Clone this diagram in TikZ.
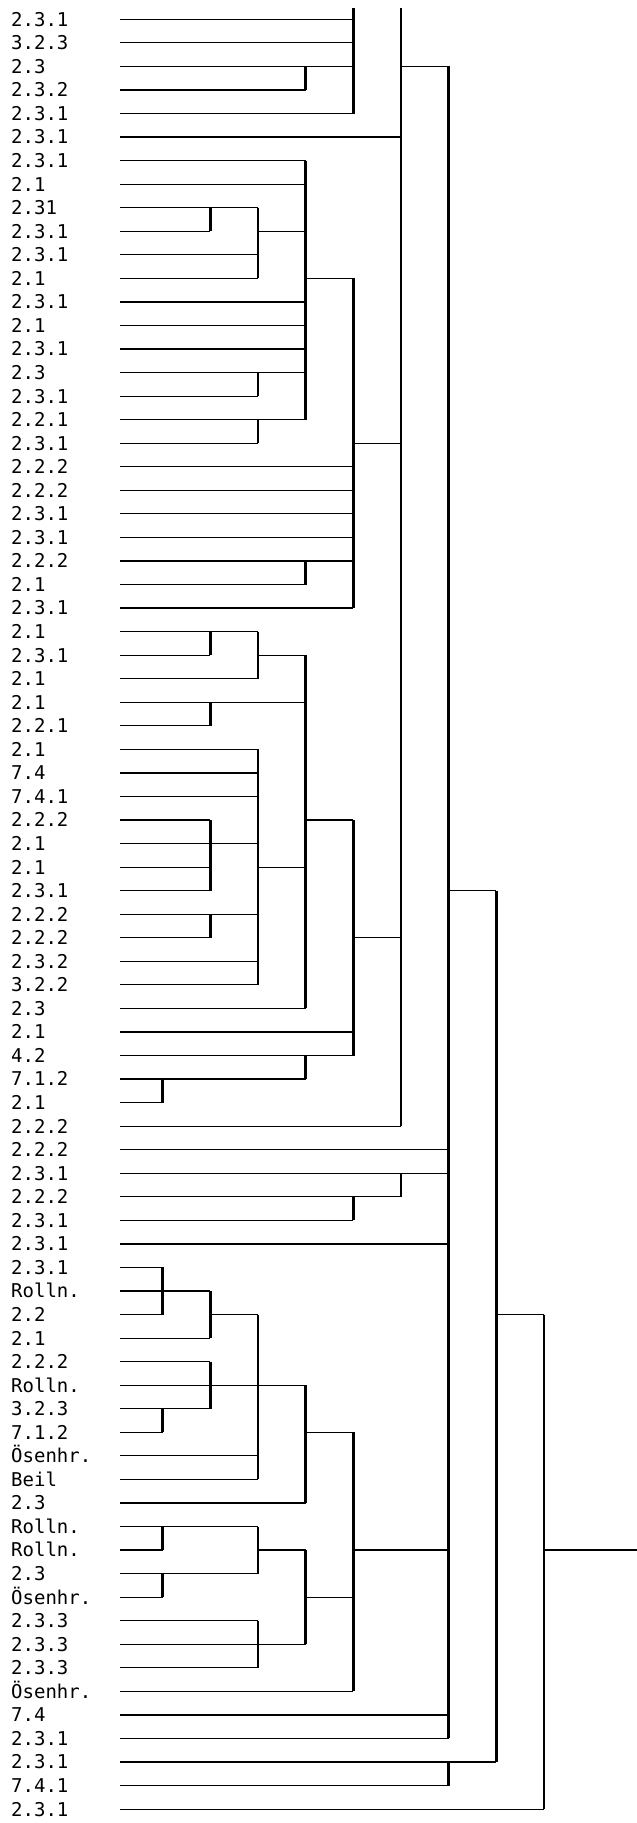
\documentclass[tikz,border=0pt]{standalone}
\usepackage{fontspec}
\newfontfamily\labelfont{DejaVu Sans Mono}
\usetikzlibrary{calc}

\begin{document}
\begin{tikzpicture}[x=1pt,y=-1pt,
    lbl/.style={anchor=base west,inner sep=0pt,
                font=\labelfont\fontsize{19}{19}\selectfont},
    hline/.style={draw=black,line width=1.2pt},
    vline/.style={draw=black,line width=2.6pt}]
  \useasboundingbox (0,0) rectangle (637,1823);
  \coordinate (top) at (0,8.3);
  \coordinate (edge) at (637,0);
  \foreach \j in {1,...,9}
    \coordinate (k\j) at ({114.8+47.7*\j},0);
  % labels and leaf starts
  \foreach \lab [count=\i] in {2.3.1,3.2.3,2.3,2.3.2,2.3.1,2.3.1,2.3.1,2.1,2.31,2.3.1,
      2.3.1,2.1,2.3.1,2.1,2.3.1,2.3,2.3.1,2.2.1,2.3.1,2.2.2,
      2.2.2,2.3.1,2.3.1,2.2.2,2.1,2.3.1,2.1,2.3.1,2.1,2.1,
      2.2.1,2.1,7.4,7.4.1,2.2.2,2.1,2.1,2.3.1,2.2.2,2.2.2,
      2.3.2,3.2.2,2.3,2.1,4.2,7.1.2,2.1,2.2.2,2.2.2,2.3.1,
      2.2.2,2.3.1,2.3.1,2.3.1,Rolln.,2.2,2.1,2.2.2,Rolln.,3.2.3,
      7.1.2,Ösenhr.,Beil,2.3,Rolln.,Rolln.,2.3,Ösenhr.,2.3.3,2.3.3,
      2.3.3,Ösenhr.,7.4,2.3.1,2.3.1,7.4.1,2.3.1}{
    \node[lbl] (n\i) at (11,{26.2+(\i-1)*23.55}) {\lab};
    \coordinate (s\i) at (119.8,{19.3+(\i-1)*23.55});
  }
  % leaf lines: row/column
  \foreach \i/\k in {1/5,2/5,3/5,4/4,5/5,6/6,7/4,8/4,9/3,10/2,
      11/3,12/3,13/4,14/4,15/4,16/4,17/3,18/4,19/3,20/5,
      21/5,22/5,23/5,24/5,25/4,26/5,27/3,28/2,29/3,30/4,
      31/2,32/3,33/3,34/3,35/2,36/3,37/2,38/2,39/3,40/2,
      41/3,42/3,43/4,44/5,45/5,46/4,47/1,48/6,49/7,50/7,
      51/6,52/5,53/7,54/1,55/2,56/1,57/2,58/2,59/4,60/2,
      61/1,62/3,63/3,64/4,65/3,66/1,67/3,68/1,69/3,70/4,
      71/3,72/5,73/7,74/7,75/8,76/7,77/9}
    \draw[hline] (s\i) -- (s\i -| k\k);
  % links between bars: row/from/to
  \foreach \i/\a/\b in {3/6/7,10/3/4,12/4/5,19/5/6,28/3/4,35/4/5,37/3/4,
      38/7/8,40/5/6,56/2/3,56/8/9,61/4/5,66/3/4,66/5/7,68/4/5}
    \draw[hline] (s\i -| k\a) -- (s\i -| k\b);
  \draw[hline] (s66 -| k9) -- (s66 -| edge);
  % bars: column/first/last row
  \draw[vline] (top -| k5) -- (s5 -| k5);
  \draw[vline] (top -| k6) -- (s48 -| k6);
  \foreach \k/\a/\b in {4/3/4,4/7/18,2/9/10,3/9/12,5/12/26,3/16/17,3/18/19,
      4/24/25,2/27/28,3/27/29,4/28/43,2/30/31,3/32/42,5/35/45,2/35/38,
      2/39/40,4/45/46,1/46/47,7/3/74,6/50/51,5/51/52,8/38/75,1/54/56,
      2/55/57,3/56/63,2/58/60,1/60/61,4/59/64,5/61/72,1/65/66,3/65/67,
      1/67/68,4/66/70,3/69/71,7/75/76,9/56/77}
    \draw[vline] (s\a -| k\k) -- (s\b -| k\k);
\end{tikzpicture}
\end{document}
